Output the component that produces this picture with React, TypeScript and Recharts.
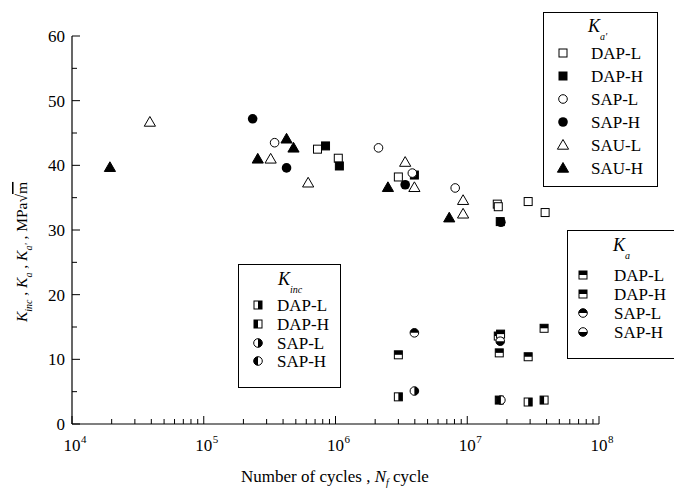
import React from "react";
import { ScatterChart, Scatter, XAxis, YAxis } from "recharts";

type Pt = { n: number; k: number };

// K_a' — cycles to failure vs. stress intensity amplitude
const kaPrimeDapL: Pt[] = [
  { n: 7.3e5, k: 42.5 },
  { n: 1.05e6, k: 41.1 },
  { n: 3.0e6, k: 38.2 },
  { n: 1.69e7, k: 34.0 },
  { n: 1.72e7, k: 33.6 },
  { n: 2.9e7, k: 34.4 },
  { n: 3.9e7, k: 32.7 },
];
const kaPrimeDapH: Pt[] = [
  { n: 8.4e5, k: 43.0 },
  { n: 1.07e6, k: 39.9 },
  { n: 3.97e6, k: 38.5 },
  { n: 1.78e7, k: 31.3 },
];
const kaPrimeSapL: Pt[] = [
  { n: 3.45e5, k: 43.5 },
  { n: 2.12e6, k: 42.7 },
  { n: 3.83e6, k: 38.8 },
  { n: 8.1e6, k: 36.5 },
];
const kaPrimeSapH: Pt[] = [
  { n: 2.35e5, k: 47.2 },
  { n: 4.25e5, k: 39.6 },
  { n: 3.38e6, k: 37.0 },
  { n: 1.8e7, k: 31.2 },
];
const kaPrimeSauL: Pt[] = [
  { n: 3.9e4, k: 46.7 },
  { n: 3.22e5, k: 41.0 },
  { n: 6.2e5, k: 37.3 },
  { n: 3.38e6, k: 40.5 },
  { n: 3.97e6, k: 36.6 },
  { n: 9.3e6, k: 34.6 },
  { n: 9.3e6, k: 32.5 },
];
const kaPrimeSauH: Pt[] = [
  { n: 1.94e4, k: 39.7 },
  { n: 2.57e5, k: 41.0 },
  { n: 4.25e5, k: 44.1 },
  { n: 4.8e5, k: 42.7 },
  { n: 2.5e6, k: 36.6 },
  { n: 7.3e6, k: 31.9 },
];

// K_a
const kaDapL: Pt[] = [
  { n: 3.0e6, k: 10.7 },
  { n: 1.75e7, k: 11.0 },
  { n: 2.9e7, k: 10.4 },
];
const kaDapH: Pt[] = [
  { n: 1.72e7, k: 13.6 },
  { n: 1.79e7, k: 13.9 },
  { n: 3.83e7, k: 14.8 },
];
const kaSapL: Pt[] = [{ n: 3.97e6, k: 14.1 }];
const kaSapH: Pt[] = [{ n: 1.78e7, k: 12.8 }];

// K_inc
const kincDapL: Pt[] = [
  { n: 3.0e6, k: 4.2 },
  { n: 2.9e7, k: 3.4 },
];
const kincDapH: Pt[] = [
  { n: 1.75e7, k: 3.7 },
  { n: 3.83e7, k: 3.7 },
];
const kincSapL: Pt[] = [{ n: 3.97e6, k: 5.1 }];
const kincSapH: Pt[] = [{ n: 1.8e7, k: 3.7 }];

const X_DECADES = [1e4, 1e5, 1e6, 1e7, 1e8];
const X_MINOR_STEPS = [2, 3, 4, 5, 6, 7, 8, 9];
const X_TICKS = [
  ...X_DECADES,
  ...X_DECADES.slice(0, 4).flatMap((d) => X_MINOR_STEPS.map((m) => m * d)),
].sort((a, b) => a - b);
const Y_TICKS = [0, 5, 10, 15, 20, 25, 30, 35, 40, 45, 50, 55, 60];
const Y_LABELED = [0, 10, 20, 30, 40, 50, 60];

const INK = "#000";
const FONT = "'Liberation Serif', 'Times New Roman', serif";
const MAJOR = 8;
const MINOR = 5;

type Kind =
  | "sqOpen"
  | "sqFill"
  | "ciOpen"
  | "ciFill"
  | "triOpen"
  | "triFill"
  | "sqTop"
  | "ciTop"
  | "ciBottom"
  | "sqRight"
  | "sqLeft"
  | "ciRight"
  | "ciLeft";

function Marker({ kind, cx, cy }: { kind: Kind; cx: number; cy: number }) {
  const s = 4;
  const r = 4.3;
  const box = (
    <rect x={cx - s} y={cy - s} width={2 * s} height={2 * s} fill="#fff" stroke={INK} strokeWidth={1} />
  );
  const ring = <circle cx={cx} cy={cy} r={r} fill="#fff" stroke={INK} strokeWidth={1} />;
  switch (kind) {
    case "sqOpen":
      return box;
    case "sqFill":
      return <rect x={cx - s} y={cy - s} width={2 * s} height={2 * s} fill={INK} stroke={INK} />;
    case "ciOpen":
      return ring;
    case "ciFill":
      return <circle cx={cx} cy={cy} r={4.8} fill={INK} />;
    case "triOpen":
    case "triFill":
      return (
        <polygon
          points={`${cx},${cy - 5.5} ${cx + 5.6},${cy + 4.2} ${cx - 5.6},${cy + 4.2}`}
          fill={kind === "triFill" ? INK : "#fff"}
          stroke={INK}
          strokeWidth={1}
        />
      );
    case "sqTop":
      return (
        <g>
          {box}
          <rect x={cx - s} y={cy - s} width={2 * s} height={s} fill={INK} />
        </g>
      );
    case "sqRight":
      return (
        <g>
          {box}
          <rect x={cx} y={cy - s} width={s} height={2 * s} fill={INK} />
        </g>
      );
    case "sqLeft":
      return (
        <g>
          {box}
          <rect x={cx - s} y={cy - s} width={s} height={2 * s} fill={INK} />
        </g>
      );
    case "ciTop":
      return (
        <g>
          {ring}
          <path d={`M ${cx - r} ${cy} A ${r} ${r} 0 0 1 ${cx + r} ${cy} Z`} fill={INK} />
        </g>
      );
    case "ciBottom":
      return (
        <g>
          {ring}
          <path d={`M ${cx - r} ${cy} A ${r} ${r} 0 0 0 ${cx + r} ${cy} Z`} fill={INK} />
        </g>
      );
    case "ciRight":
      return (
        <g>
          {ring}
          <path d={`M ${cx} ${cy - r} A ${r} ${r} 0 0 1 ${cx} ${cy + r} Z`} fill={INK} />
        </g>
      );
    case "ciLeft":
      return (
        <g>
          {ring}
          <path d={`M ${cx} ${cy - r} A ${r} ${r} 0 0 0 ${cx} ${cy + r} Z`} fill={INK} />
        </g>
      );
  }
  return null;
}

const isDecade = (v: number) => Math.abs(Math.log10(v) - Math.round(Math.log10(v))) < 1e-9;

function BottomTick(p: any) {
  const v = p.payload.value as number;
  const major = isDecade(v);
  const exp = Math.round(Math.log10(v));
  return (
    <g>
      <line x1={p.x} x2={p.x} y1={p.y} y2={p.y - (major ? MAJOR : MINOR)} stroke={INK} strokeWidth={1} />
      {major && (
        <text fontFamily={FONT} fill={INK}>
          <tspan x={p.x} y={p.y + 27} textAnchor="middle" fontSize={17}>
            10
          </tspan>
          <tspan x={p.x + 9} y={p.y + 19} fontSize={11}>
            {exp}
          </tspan>
        </text>
      )}
    </g>
  );
}

function TopTick(p: any) {
  const v = p.payload.value as number;
  const major = isDecade(v);
  return <line x1={p.x} x2={p.x} y1={p.y} y2={p.y + (major ? MAJOR : MINOR)} stroke={INK} strokeWidth={1} />;
}

function LeftTick(p: any) {
  const v = p.payload.value as number;
  const major = Y_LABELED.includes(v);
  return (
    <g>
      <line x1={p.x} x2={p.x + (major ? MAJOR : MINOR)} y1={p.y} y2={p.y} stroke={INK} strokeWidth={1} />
      {major && (
        <text x={p.x - 7} y={p.y + 6} textAnchor="end" fontSize={17} fontFamily={FONT} fill={INK}>
          {v}
        </text>
      )}
    </g>
  );
}

function RightTick(p: any) {
  const v = p.payload.value as number;
  const major = Y_LABELED.includes(v);
  return <line x1={p.x} x2={p.x - (major ? MAJOR : MINOR)} y1={p.y} y2={p.y} stroke={INK} strokeWidth={1} />;
}

const series: { data: Pt[]; kind: Kind; name: string }[] = [
  { data: kaPrimeDapL, kind: "sqOpen", name: "Ka' DAP-L" },
  { data: kaPrimeDapH, kind: "sqFill", name: "Ka' DAP-H" },
  { data: kaPrimeSapL, kind: "ciOpen", name: "Ka' SAP-L" },
  { data: kaPrimeSapH, kind: "ciFill", name: "Ka' SAP-H" },
  { data: kaPrimeSauL, kind: "triOpen", name: "Ka' SAU-L" },
  { data: kaPrimeSauH, kind: "triFill", name: "Ka' SAU-H" },
  { data: kaDapL, kind: "sqTop", name: "Ka DAP-L" },
  { data: kaDapH, kind: "sqTop", name: "Ka DAP-H" },
  { data: kaSapL, kind: "ciTop", name: "Ka SAP-L" },
  { data: kaSapH, kind: "ciBottom", name: "Ka SAP-H" },
  { data: kincDapL, kind: "sqRight", name: "Kinc DAP-L" },
  { data: kincDapH, kind: "sqLeft", name: "Kinc DAP-H" },
  { data: kincSapL, kind: "ciRight", name: "Kinc SAP-L" },
  { data: kincSapH, kind: "ciLeft", name: "Kinc SAP-H" },
];

type LegendRow = { label: string; kind: Kind };
const legendKaPrime: LegendRow[] = [
  { label: "DAP-L", kind: "sqOpen" },
  { label: "DAP-H", kind: "sqFill" },
  { label: "SAP-L", kind: "ciOpen" },
  { label: "SAP-H", kind: "ciFill" },
  { label: "SAU-L", kind: "triOpen" },
  { label: "SAU-H", kind: "triFill" },
];
const legendKa: LegendRow[] = [
  { label: "DAP-L", kind: "sqTop" },
  { label: "DAP-H", kind: "sqTop" },
  { label: "SAP-L", kind: "ciTop" },
  { label: "SAP-H", kind: "ciBottom" },
];
const legendKinc: LegendRow[] = [
  { label: "DAP-L", kind: "sqRight" },
  { label: "DAP-H", kind: "sqLeft" },
  { label: "SAP-L", kind: "ciRight" },
  { label: "SAP-H", kind: "ciLeft" },
];

function LegendBox(props: {
  x: number;
  y: number;
  w: number;
  h: number;
  titleX: number;
  titleY: number;
  sub: string;
  symX: number;
  textX: number;
  rowY: number[];
  rows: LegendRow[];
}) {
  const { x, y, w, h, titleX, titleY, sub, symX, textX, rowY, rows } = props;
  return (
    <g>
      <rect x={x} y={y} width={w} height={h} fill="#fff" stroke={INK} strokeWidth={1} />
      <text x={titleX} y={titleY} fontSize={18} fontFamily={FONT} fill={INK} fontStyle="italic">
        K
      </text>
      <text x={titleX + 12} y={titleY + 8} fontSize={10} fontFamily={FONT} fill={INK} fontStyle="italic">
        {sub}
      </text>
      {rows.map((r, i) => (
        <g key={r.label + i}>
          <Marker kind={r.kind} cx={symX} cy={rowY[i]} />
          <text x={textX} y={rowY[i] + 6} fontSize={17} fontFamily={FONT} fill={INK}>
            {r.label}
          </text>
        </g>
      ))}
    </g>
  );
}

export default function App() {
  return (
    <div style={{ position: "absolute", left: 0, top: 0, width: 674, height: 490, background: "#fff" }}>
      <ScatterChart width={674} height={490} margin={{ top: 36, right: 75, bottom: 36, left: 32 }}>
        <XAxis
          type="number"
          dataKey="n"
          scale="log"
          domain={[1e4, 1e8]}
          allowDataOverflow
          ticks={X_TICKS}
          interval={0}
          tick={BottomTick}
          tickSize={0}
          tickMargin={0}
          tickLine={false}
          height={30}
          axisLine={{ stroke: INK, strokeWidth: 1.2 }}
        />
        <XAxis
          xAxisId="top"
          orientation="top"
          type="number"
          scale="log"
          domain={[1e4, 1e8]}
          allowDataOverflow
          ticks={X_TICKS}
          interval={0}
          tick={TopTick}
          tickSize={0}
          tickMargin={0}
          tickLine={false}
          height={0}
          axisLine={{ stroke: INK, strokeWidth: 1.2 }}
        />
        <YAxis
          type="number"
          dataKey="k"
          domain={[0, 60]}
          allowDataOverflow
          ticks={Y_TICKS}
          interval={0}
          tick={LeftTick}
          tickSize={0}
          tickMargin={0}
          tickLine={false}
          width={40}
          axisLine={{ stroke: INK, strokeWidth: 1.2 }}
        />
        <YAxis
          yAxisId="right"
          orientation="right"
          type="number"
          domain={[0, 60]}
          allowDataOverflow
          ticks={Y_TICKS}
          interval={0}
          tick={RightTick}
          tickSize={0}
          tickMargin={0}
          tickLine={false}
          width={0}
          axisLine={{ stroke: INK, strokeWidth: 1.2 }}
        />
        {series.map((s) => (
          <Scatter
            key={s.name}
            name={s.name}
            data={s.data}
            isAnimationActive={false}
            shape={(p: any) => <Marker kind={s.kind} cx={p.cx} cy={p.cy} />}
          />
        ))}
      </ScatterChart>
      <svg
        width={674}
        height={490}
        style={{ position: "absolute", left: 0, top: 0, pointerEvents: "none" }}
      >
        <LegendBox
          x={543.5}
          y={12.5}
          w={114}
          h={174}
          titleX={588}
          titleY={32}
          sub="a'"
          symX={563}
          textX={591}
          rowY={[53, 76, 99, 122, 145, 168]}
          rows={legendKaPrime}
        />
        <LegendBox
          x={567.5}
          y={230.5}
          w={120}
          h={128}
          titleX={613}
          titleY={251}
          sub="a"
          symX={583}
          textX={614}
          rowY={[275, 294, 313, 332]}
          rows={legendKa}
        />
        <LegendBox
          x={238.5}
          y={264.5}
          w={102}
          h={123}
          titleX={278}
          titleY={285}
          sub="inc"
          symX={258}
          textX={277}
          rowY={[305, 324, 343, 361]}
          rows={legendKinc}
        />
        <text x={335} y={482} textAnchor="middle" fontSize={17} fontFamily={FONT} fill={INK}>
          Number of cycles ,{" "}
          <tspan fontStyle="italic">N</tspan>
          <tspan fontStyle="italic" fontSize={10} dy={4}>
            f
          </tspan>
          <tspan dy={-4}> cycle</tspan>
        </text>
        <g transform="translate(27,252) rotate(-90)">
          <text x={0} y={0} textAnchor="middle" fontSize={15.5} fontFamily={FONT} fill={INK}>
            <tspan fontStyle="italic">K</tspan>
            <tspan fontStyle="italic" fontSize={10} dy={5}>
              inc
            </tspan>
            <tspan dy={-5}> , </tspan>
            <tspan fontStyle="italic">K</tspan>
            <tspan fontStyle="italic" fontSize={10} dy={5}>
              a
            </tspan>
            <tspan dy={-5}> , </tspan>
            <tspan fontStyle="italic">K</tspan>
            <tspan fontStyle="italic" fontSize={10} dy={5}>
              a'
            </tspan>
            <tspan dy={-5}> , MPa√</tspan>
            <tspan style={{ textDecoration: "overline" }}>m</tspan>
          </text>
        </g>
      </svg>
    </div>
  );
}
